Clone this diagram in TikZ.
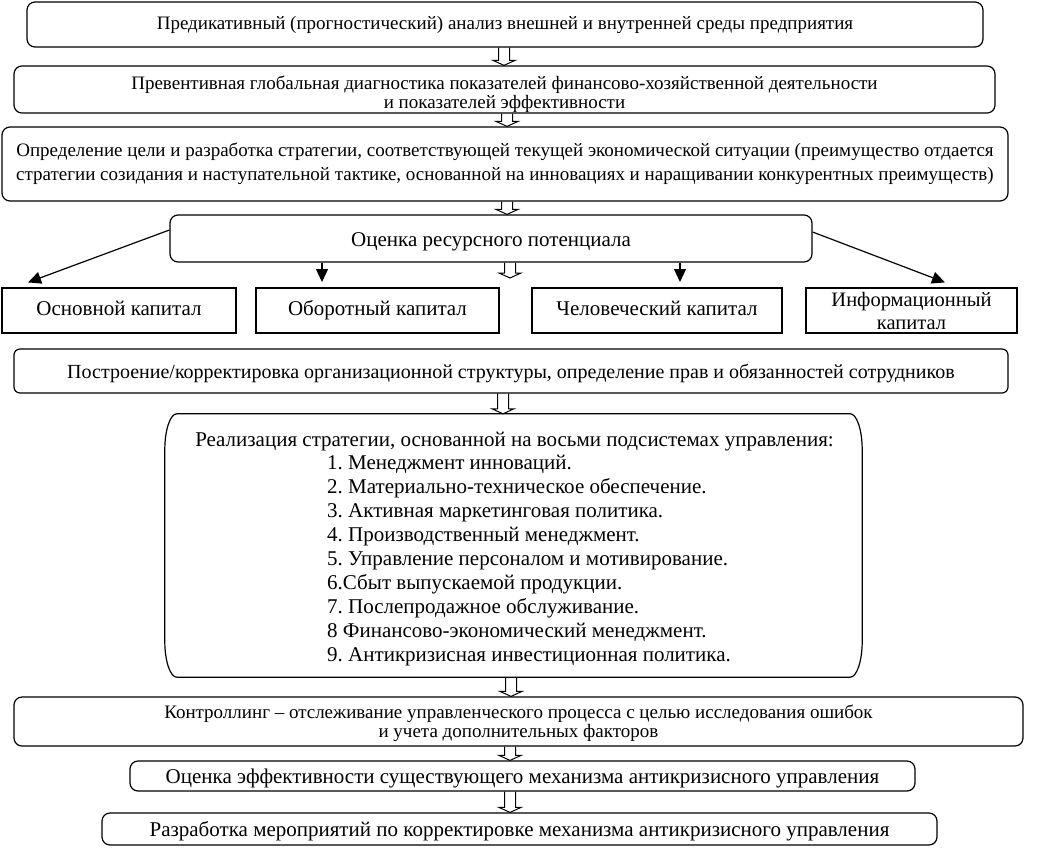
\documentclass[tikz,border=0pt]{standalone}
\usepackage{fontspec}
\setmainfont{Liberation Serif}
\usetikzlibrary{arrows.meta,calc}
\newcommand\holarrow[2]{\draw[hol] let \p1=(#1), \p2=(#2) in (\x1-5.5pt,\y1) -- (\x1-5.5pt,\y2+5pt) -- (\x1-11pt,\y2+5pt) -- (\x1,\y2) -- (\x1+11pt,\y2+5pt) -- (\x1+5.5pt,\y2+5pt) -- (\x1+5.5pt,\y1);}
\begin{document}
\frenchspacing
\begin{tikzpicture}[x=1pt,y=-1pt,
  box/.style={draw, line width=1.2pt, rounded corners=8pt, align=center, inner sep=0pt, font=\fontsize{19}{23}\selectfont},
  sq/.style={box, rounded corners=0pt, font=\fontsize{21}{24}\selectfont},
  one/.style={text height=19pt, text depth=4pt},
  onec/.style={text height=14pt, text depth=4pt},
  txt/.style={inner sep=0pt, font=\fontsize{21}{24}\selectfont},
  fa/.style={line width=1.2pt, -{Triangle[length=13pt,width=12pt]}},
  hol/.style={draw, line width=1pt}]
\useasboundingbox (0,0) rectangle (1037,847);
\node[box, onec, minimum width=956pt, minimum height=45pt] (b1) at (505,24.5) {Предикативный (прогностический) анализ внешней и внутренней среды предприятия};
\node[box, minimum width=981pt, minimum height=45pt, font=\fontsize{19}{19}\selectfont] (b2) at (504.5,89.5) {\rule{0pt}{24pt}Превентивная глобальная диагностика показателей финансово-хозяйственной деятельности\\и показателей эффективности};
\node[box, minimum width=1006pt, minimum height=74pt, font=\fontsize{19}{24}\selectfont] (b3) at (505,164) {Определение цели и разработка стратегии, соответствующей текущей экономической ситуации (преимущество отдается\\стратегии созидания и наступательной тактике, основанной на инновациях и наращивании конкурентных преимуществ)};
\node[box, one, minimum width=642pt, minimum height=47pt, font=\fontsize{21}{24}\selectfont] (b4) at (491,238.5) {Оценка ресурсного потенциала};
\node[sq, onec, minimum width=234pt, minimum height=45pt] (c1) at (119,310.5) {Основной капитал};
\node[sq, onec, minimum width=243pt, minimum height=45pt] (c2) at (377.5,310.5) {Оборотный капитал};
\node[sq, onec, minimum width=250pt, minimum height=45pt] (c3) at (657,310.5) {Человеческий капитал};
\node[sq, minimum width=211pt, minimum height=45pt, font=\fontsize{20.5}{23}\selectfont] (c4) at (911.5,310.5) {Информационный\\капитал};
\node[box, one, rounded corners=6pt, minimum width=994pt, minimum height=44pt, font=\fontsize{20}{23}\selectfont] (b5) at (511,371) {Построение/корректировка организационной структуры, определение прав и обязанностей сотрудников};
% big box
\node[minimum width=697pt, minimum height=263pt, inner sep=0pt] (B) at (513.5,545.5) {};
\draw[line width=1.2pt] ([xshift=12pt]B.north west) -- ([xshift=-12pt]B.north east)
  arc[start angle=90,end angle=0,x radius=12pt,y radius=36pt]
  -- ([yshift=36pt]B.south east)
  arc[start angle=0,end angle=-90,x radius=12pt,y radius=36pt]
  -- ([xshift=12pt]B.south west)
  arc[start angle=-90,end angle=-180,x radius=12pt,y radius=36pt]
  -- ([yshift=-36pt]B.north west)
  arc[start angle=180,end angle=90,x radius=12pt,y radius=36pt];
\node[txt, anchor=base] (hd) at (514.5,446) {Реализация стратегии, основанной на восьми подсистемах управления:};
\foreach \t [count=\i] in {{1. Менеджмент инноваций.},{2. Материально-техническое обеспечение.},{3. Активная маркетинговая политика.},{4. Производственный менеджмент.},{5. Управление персоналом и мотивирование.},{6.Сбыт выпускаемой продукции.},{7. Послепродажное обслуживание.},{8 Финансово-экономический менеджмент.},{9. Антикризисная инвестиционная политика.}}
  \node[txt, anchor=base west] (L\i) at (327,445+24.1*\i) {\t};
\node[box, minimum width=1009pt, minimum height=49pt, font=\fontsize{19}{19}\selectfont] (b6) at (518.5,721.5) {\rule{0pt}{17pt}Контроллинг – отслеживание управленческого процесса с целью исследования ошибок\\и учета дополнительных факторов};
\node[box, one, minimum width=785pt, minimum height=30pt, font=\fontsize{21}{24}\selectfont] (b7) at (522.5,776) {Оценка эффективности существующего механизма антикризисного управления};
\node[box, one, minimum width=835pt, minimum height=32pt, font=\fontsize{21}{24}\selectfont] (b8) at (519.5,829) {Разработка мероприятий по корректировке механизма антикризисного управления};
% hollow arrows
\holarrow{[xshift=-1pt]b1.south}{b2.north}
\holarrow{[xshift=2.5pt]b2.south}{b3.north}
\holarrow{[xshift=2pt]b3.south}{b4.north}
\coordinate (h4e) at (510,278);
\holarrow{[xshift=19pt]b4.south}{h4e}
\holarrow{[xshift=-8pt]b5.south}{B.north}
\holarrow{[xshift=-2.5pt]B.south}{b6.north}
\holarrow{[xshift=-8.5pt]b6.south}{b7.north}
\holarrow{[xshift=-12.5pt]b7.south}{b8.north}
% filled arrows
\coordinate (t2) at (322,282);
\coordinate (t3) at (680,282);
\draw[fa] ([yshift=8.5pt]b4.west) -- ([xshift=-91pt,yshift=5pt]c1.north);
\draw[fa] ([xshift=-169pt]b4.south) -- (t2);
\draw[fa] ([xshift=189pt]b4.south) -- (t3);
\draw[fa] ([yshift=6.5pt]b4.east) -- ([xshift=33.5pt,yshift=5pt]c4.north);
\end{tikzpicture}
\end{document}
